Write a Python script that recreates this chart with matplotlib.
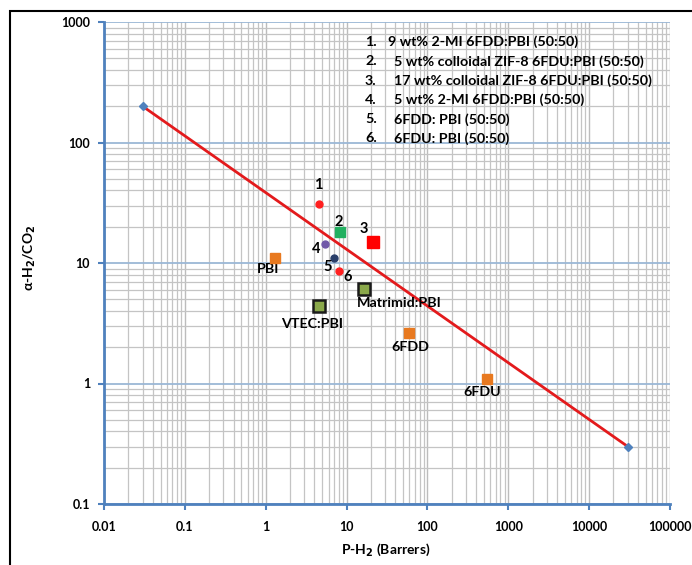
import matplotlib
matplotlib.use("Agg")
import matplotlib.pyplot as plt
from matplotlib.patches import Rectangle
from matplotlib.ticker import LogLocator, NullFormatter

plt.rcParams["font.family"] = ["Lato", "DejaVu Sans"]
plt.rcParams["font.weight"] = "bold"

# upper bound line
bound_x = [0.03, 30000]
bound_y = [200, 0.3]

# numbered membranes
num_labels = ["1", "2", "3", "4", "5", "6"]
num_x = [4.5, 8.4, 21, 5.4, 7.0, 8.0]
num_y = [31, 18.2, 14.8, 14.3, 11.1, 8.6]

# reference polymers
ref_names = ["PBI", "6FDD", "6FDU"]
ref_x = [1.3, 60, 540]
ref_y = [11.1, 2.6, 1.1]

# blends
blend_names = ["VTEC:PBI", "Matrimid:PBI"]
blend_x = [4.6, 16.5]
blend_y = [4.4, 6.05]

legend_lines = [
    "9 wt% 2-MI 6FDD:PBI (50:50)",
    "5 wt% colloidal ZIF-8 6FDU:PBI (50:50)",
    "17 wt% colloidal ZIF-8 6FDU:PBI (50:50)",
    "5 wt% 2-MI 6FDD:PBI (50:50)",
    "6FDD: PBI (50:50)",
    "6FDU: PBI (50:50)",
]

W, H = 692, 565
fig = plt.figure(figsize=(W / 100, H / 100), dpi=100)
ax = fig.add_axes([104 / W, 1 - 504 / H, 566 / W, 482 / H])
ax.set_xscale("log")
ax.set_yscale("log")
ax.set_xlim(0.01, 100000)
ax.set_ylim(0.1, 1000)

# grid
ax.xaxis.set_minor_locator(LogLocator(base=10, subs=range(2, 10), numticks=20))
ax.yaxis.set_minor_locator(LogLocator(base=10, subs=range(2, 10), numticks=20))
ax.xaxis.set_minor_formatter(NullFormatter())
ax.yaxis.set_minor_formatter(NullFormatter())
ax.grid(True, which="minor", color="#c4c4c4", lw=0.9)
ax.grid(True, which="major", axis="x", color="#bcbcbc", lw=1.0)
ax.grid(True, which="major", axis="y", color="#9bb7d6", lw=1.3)
ax.set_axisbelow(True)

xt = [0.01, 0.1, 1, 10, 100, 1000, 10000, 100000]
ax.set_xticks(xt)
ax.set_xticklabels(["0.01", "0.1", "1", "10", "100", "1000", "10000", "100000"])
yt = [0.1, 1, 10, 100, 1000]
ax.set_yticks(yt)
ax.set_yticklabels(["0.1", "1", "10", "100", "1000"])
ax.tick_params(which="major", length=4, width=1.5, color="#4f81bd", labelsize=9)
ax.tick_params(axis="x", pad=8)
ax.tick_params(axis="y", pad=6)
ax.tick_params(which="minor", length=0)
for lab in ax.get_xticklabels() + ax.get_yticklabels():
    lab.set_fontweight("bold")

for s in ["top", "right"]:
    ax.spines[s].set_visible(False)
for s in ["left", "bottom"]:
    ax.spines[s].set_color("#4f81bd")
    ax.spines[s].set_linewidth(2)

ax.set_xlabel("P-H$_2$ (Barrers)", fontsize=10, fontweight="bold")
ax.set_ylabel("α-H$_2$/CO$_2$", fontsize=10, fontweight="bold")
ax.xaxis.set_label_coords(0.497, -(550 - 504) / 482)
ax.yaxis.set_label_coords((30 - 104) / 566, (504 - 258) / 482)
ax.xaxis.label.set_va("center")
ax.yaxis.label.set_va("center")

# upper bound
ax.plot(bound_x, bound_y, color="#e31a1c", lw=2, zorder=3)
ax.plot(bound_x, bound_y, ls="none", marker="D", ms=4.5, color="#4f81bd", zorder=4)

# numbered points
num_style = [
    dict(marker="o", ms=5, color="#ff2020"),
    dict(marker="s", ms=7, color="#22b060"),
    dict(marker="s", ms=9, color="#ff0000"),
    dict(marker="o", ms=5, color="#7058a8"),
    dict(marker="o", ms=5, color="#2a3f6a"),
    dict(marker="o", ms=5, color="#ff2020"),
]
num_off = [(0, 13.5), (-1, 7), (-6.5, 10), (-6.5, -3.5), (-4.3, -6.5), (6.5, -4.3)]
for i in range(len(num_labels)):
    ax.plot(num_x[i], num_y[i], ls="none", zorder=5, **num_style[i])
    ax.annotate(num_labels[i], (num_x[i], num_y[i]), xytext=num_off[i],
                textcoords="offset points", ha="center", va="center",
                fontsize=10.5, fontweight="bold", zorder=6)

# reference polymers
ref_off = [(-5, -8.6), (0.7, -10), (-2.9, -10)]
for i in range(len(ref_names)):
    ax.plot(ref_x[i], ref_y[i], ls="none", marker="s", ms=6.5,
            color="#e8791f", zorder=5)
    ax.annotate(ref_names[i], (ref_x[i], ref_y[i]), xytext=ref_off[i],
                textcoords="offset points", ha="center", va="center",
                fontsize=10.3, fontweight="bold")

# blends
blend_off = [(-5, -13), (25, -10)]
for i in range(len(blend_names)):
    ax.plot(blend_x[i], blend_y[i], ls="none", marker="s", ms=8,
            mfc="#8aa84a", mec="#1a1a1a", mew=1.8, zorder=5)
    ax.annotate(blend_names[i], (blend_x[i], blend_y[i]), xytext=blend_off[i],
                textcoords="offset points", ha="center", va="center",
                fontsize=10.3, fontweight="bold", zorder=6)

# legend text
for i, line in enumerate(legend_lines):
    yy = 1 - (42 + i * 19.3) / H
    fig.text(365 / W, yy, f"{i + 1}.", fontsize=10.3, fontweight="bold", va="center")
    fig.text((388 if i == 0 else 394) / W, yy, line, fontsize=10.3,
             fontweight="bold", va="center")

# outer frame
fig.add_artist(Rectangle((10 / W, -0.1), 1.2, 1 - 11 / H + 0.1,
                         transform=fig.transFigure, fill=False,
                         edgecolor="black", lw=1.5))

fig.savefig("out.png", dpi=100)
